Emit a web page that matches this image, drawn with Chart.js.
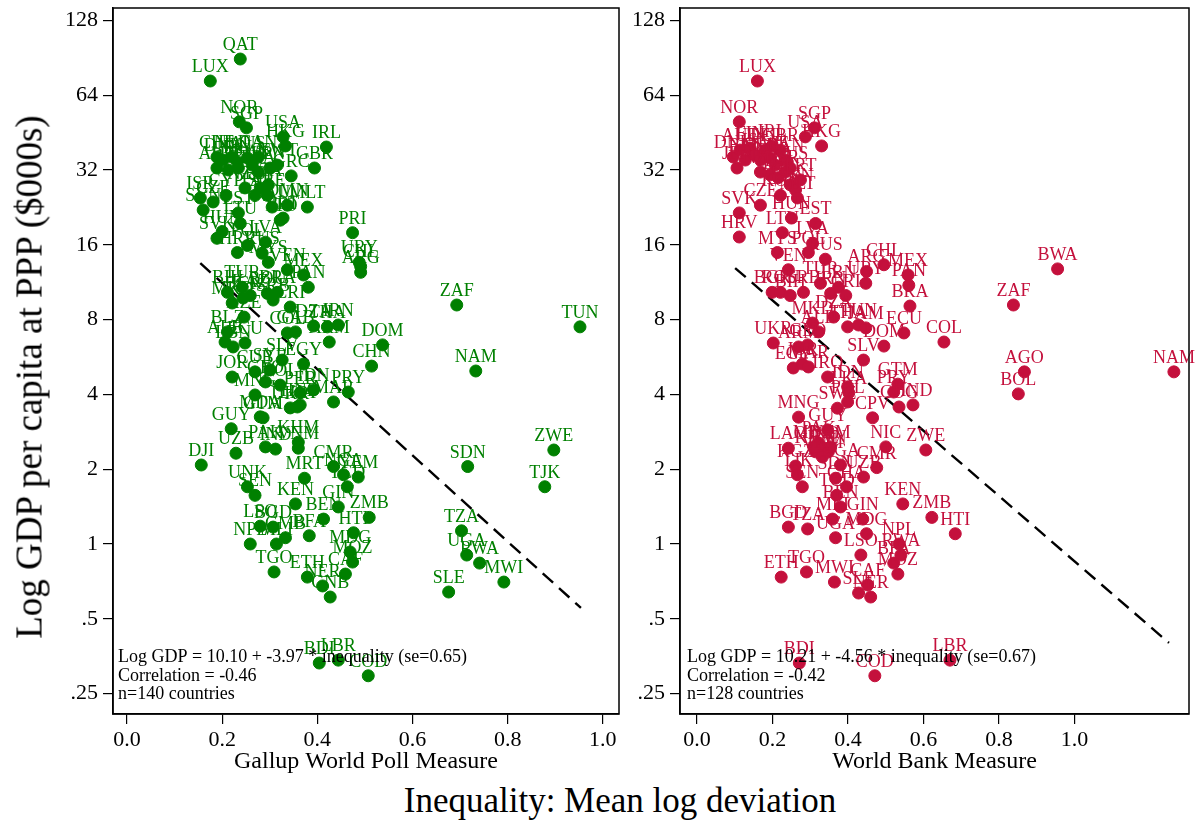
<!DOCTYPE html>
<html>
<head>
<meta charset="utf-8">
<script src="https://cdn.jsdelivr.net/npm/chart.js@4.4.1/dist/chart.umd.min.js"></script>
<style>
body { margin:0; background:#fff; width:1199px; height:824px; overflow:hidden; position:relative; font-family:"Liberation Serif", serif; }
canvas { position:absolute; top:0; }
#gallup { left:0; }
#wb { left:620px; }
.ytitle { position:absolute; left:29px; top:377px; transform:translate(-50%,-50%) rotate(-90deg); font-size:37px; white-space:nowrap; }
.xtitle { position:absolute; left:620px; top:801px; transform:translate(-50%,-50%); font-size:35px; white-space:nowrap; }
</style>
</head>
<body>
<canvas id="gallup" width="626" height="780"></canvas>
<canvas id="wb" width="579" height="780"></canvas>
<div class="ytitle">Log GDP per capita at PPP ($000s)</div>
<div class="xtitle">Inequality: Mean log deviation</div>
<script>
// axis ticks
var yTicks = [0.25, 0.5, 1, 2, 4, 8, 16, 32, 64, 128];
var yTickLabels = [".25", ".5", "1", "2", "4", "8", "16", "32", "64", "128"];
var xTicks = [0, 0.2, 0.4, 0.6, 0.8, 1.0];

// Gallup World Poll panel (GDP in $000s)
var gallupCodes = [
  "QAT","LUX","NOR","SGP","USA","HKG","IRL","GBR","GRC",
  "CHE","DNK","NLD","FIN","AUS","SWE","CAN","AUT","BEL","DEU","FRA","JPN","KWT",
  "ITA","ESP","NZL","ISL","ARE","ISR","SVN","CYP","CZE","SAU","MLT","OMN","PRT","EST","LTU","TTO",
  "SVK","HUN","HRV","POL","LVA","RUS","MYS","VEN","MEX","PAN","CHL","ARG","URY","PRI",
  "TUR","BIH","KAZ","BGR","ROU","BRA","SRB","MKD","CRI","DZA","THA","IRN",
  "AZE","BLZ","ALB","LBN","ECU","COL","GAB","ARM","CHN","DOM","ZAF","TUN","NAM",
  "SLV","EGY","JOR","CUB","SYR","GEO","BOL","PER","IDN","PRY","MAR","MNG","UKR","LKA","HND",
  "GUY","MDA","GTM","UZB","DJI","PAK","IND","KHM","VNM","MRT","CMR","NGA","SDN","ZWE","TJK",
  "YEM","TCD","UNK","SEN","KEN","GIN","ZMB","HTI","BEN","BFA","LSO","BGD","NPL","MLI","GMB",
  "MDG","MOZ","CAF","TGO","ETH","NER","GNB","SLE","MWI","TZA","UGA","RWA","BDI","LBR","COD"
];
var gallupIneq = [
  0.238,0.175,0.236,0.251,0.328,0.333,0.419,0.394,0.345,
  0.189,0.202,0.221,0.232,0.253,0.263,0.276,0.189,0.213,0.234,0.276,0.301,0.316,
  0.297,0.280,0.248,0.269,0.295,0.154,0.160,0.208,0.181,0.305,0.379,0.337,0.328,0.234,0.238,0.322,
  0.189,0.200,0.232,0.253,0.291,0.284,0.297,0.337,0.371,0.381,0.491,0.491,0.488,0.474,
  0.242,0.211,0.259,0.244,0.295,0.316,0.307,0.221,0.343,0.392,0.421,0.444,
  0.246,0.211,0.206,0.223,0.248,0.337,0.354,0.425,0.514,0.537,0.693,0.952,0.733,
  0.326,0.371,0.221,0.269,0.301,0.291,0.322,0.364,0.392,0.465,0.434,0.269,0.343,0.358,0.364,
  0.219,0.280,0.286,0.229,0.156,0.291,0.312,0.360,0.360,0.373,0.434,0.455,0.716,0.897,0.878,
  0.486,0.463,0.253,0.269,0.354,0.444,0.509,0.476,0.413,0.383,0.280,0.307,0.259,0.314,0.333,
  0.469,0.474,0.459,0.309,0.379,0.411,0.427,0.676,0.792,0.703,0.714,0.741,0.404,0.444,0.507
];
var gallupGdp = [
  89.5,73.0,50.0,47.3,43.5,40.0,39.6,32.6,30.3,
  36.1,35.1,36.1,34.5,35.8,33.5,36.1,32.6,32.0,32.6,31.4,32.6,33.5,
  27.9,27.1,27.1,25.3,25.3,24.7,22.1,25.3,23.8,22.7,22.7,23.1,20.5,21.5,19.5,20.1,
  17.0,18.1,14.9,15.9,16.4,14.8,13.6,12.7,12.1,10.8,13.1,12.4,13.6,17.9,
  10.8,10.3,10.0,9.77,10.2,10.3,9.59,9.33,8.99,7.54,7.48,7.61,
  8.19,7.14,6.50,6.21,6.44,7.07,7.14,6.50,5.20,6.33,9.16,7.48,4.97,
  5.50,5.30,4.70,4.93,5.02,4.49,4.36,4.06,4.17,4.09,3.73,3.98,3.53,3.56,3.63,
  2.91,3.25,3.22,2.32,2.08,2.46,2.41,2.57,2.43,1.84,2.05,1.90,2.05,2.39,1.70,
  1.86,1.70,1.70,1.57,1.45,1.41,1.28,1.11,1.26,1.08,1.18,1.17,1.00,1.00,1.06,
  0.929,0.846,0.757,0.772,0.736,0.678,0.612,0.641,0.703,1.13,0.903,0.838,0.332,0.341,0.295
];
var gallupFitX = [0.154, 0.954];
var gallupFitY = [13.5, 0.553];
var gallupNotes = ["Log GDP = 10.10 + -3.97 * inequality (se=0.65)", "Correlation = -0.46", "n=140 countries"];

// World Bank panel
var wbCodes = [
  "LUX","NOR","SGP","USA","HKG","IRL",
  "DNK","AUT","BEL","FIN","JPN","ISL","NLD","DEU","SWE","FRA","GBR","CAN","AUS","ITA","ESP","ISR","GRC","SVN","NZL","PRT","CZE",
  "SVK","HRV","LTU","KOR","MLT","HUN","EST","LVA","POL","MYS","RUS","CHL","ARG","MEX",
  "PAN","URY","VEN","TUR","LBN","BGR","ROU","BIH","SRB","IRN","CRI","BRA","DZA",
  "MKD","ALB","THA","TUN","JAM","ECU","COL","UKR","DOM","ARM","GEO","SLV","EGY","JOR",
  "MAR","IRQ","IDN","LKA","PHL","GTM","PRY","HND","COG","MNG","SWZ","CPV","GUY","PAK",
  "IND","BTN","KHM","VNM","YEM","MDA","LAO","NIC","ZWE","NGA","CMR","KGZ","TJK","SDN","UZB",
  "SEN","GHA","TCD","BEN","KEN","ZMB","HTI","BGD","TZA","MLI","GIN","UGA","MDG","NPL","RWA",
  "BFA","LSO","MOZ","ETH","TGO","MWI","CAF","SLE","NER","BDI","COD","LBR","BWA","ZAF","AGO","BOL",
  "NAM"
];
var wbIneq = [
  0.160,0.112,0.311,0.287,0.330,0.199,
  0.096,0.114,0.128,0.141,0.106,0.154,0.168,0.181,0.194,0.207,0.221,0.234,0.247,0.194,0.215,0.234,0.247,0.261,0.168,0.274,0.168,
  0.112,0.112,0.226,0.221,0.266,0.250,0.314,0.306,0.295,0.213,0.340,0.495,0.449,0.559,
  0.561,0.447,0.242,0.327,0.375,0.199,0.221,0.247,0.282,0.354,0.394,0.564,0.362,
  0.306,0.322,0.399,0.428,0.447,0.548,0.654,0.202,0.495,0.269,0.293,0.441,0.255,0.279,
  0.295,0.346,0.399,0.402,0.399,0.532,0.521,0.572,0.535,0.269,0.372,0.465,0.346,0.322,
  0.335,0.348,0.314,0.332,0.354,0.309,0.242,0.500,0.606,0.380,0.476,0.261,0.266,0.367,0.441,
  0.279,0.396,0.370,0.380,0.545,0.622,0.684,0.242,0.293,0.359,0.439,0.367,0.449,0.535,0.540,
  0.521,0.434,0.532,0.223,0.290,0.364,0.452,0.428,0.460,0.271,0.471,0.670,0.955,0.838,0.867,0.851,
  1.263
];
var wbGdp = [
  73.0,50.0,47.3,43.5,40.0,40.0,
  36.1,38.5,35.1,39.2,32.6,36.8,35.1,38.5,35.8,33.5,38.5,35.1,32.6,30.6,29.8,31.4,27.9,26.6,31.4,29.2,23.1,
  21.5,17.2,17.9,25.3,24.7,20.5,19.5,16.2,14.9,14.9,14.0,13.3,12.5,12.1,
  11.0,11.2,12.7,11.2,10.8,10.3,10.3,10.0,10.3,10.2,10.0,9.07,8.19,
  7.75,7.14,7.48,7.61,7.41,7.07,6.50,6.44,6.26,6.21,6.33,5.50,5.11,5.30,
  5.16,4.70,4.29,4.06,3.73,4.40,4.09,3.63,3.56,3.24,3.52,3.22,2.88,2.55,
  2.43,2.35,2.35,2.24,2.46,2.46,2.43,2.46,2.39,2.08,2.03,2.06,1.90,1.84,1.86,
  1.70,1.70,1.57,1.41,1.45,1.28,1.10,1.17,1.15,1.26,1.26,1.06,1.10,1.00,0.903,
  0.838,0.903,0.757,0.736,0.772,0.703,0.684,0.635,0.612,0.332,0.295,0.341,12.8,9.16,4.93,4.02,
  4.93
];
var wbFitX = [0.101, 1.250];
var wbFitY = [12.9, 0.400];
var wbNotes = ["Log GDP = 10.21 + -4.56 * inequality (se=0.67)", "Correlation = -0.42", "n=128 countries"];

var FONT = '"Liberation Serif", "Times New Roman", serif';

function makePanel(id, p) {
  var pts = p.codes.map(function (c, i) { return { x: p.xs[i], y: p.ys[i] }; });
  var fit = p.fitX.map(function (x, i) { return { x: x, y: p.fitY[i] }; });

  var extras = {
    id: 'extras',
    afterDatasetsDraw: function (chart) {
      var ctx = chart.ctx, a = chart.chartArea;
      var meta = chart.getDatasetMeta(0);
      ctx.save();
      // country codes above the dots
      ctx.font = '18px ' + FONT;
      ctx.fillStyle = p.color;
      ctx.textAlign = 'center';
      ctx.textBaseline = 'alphabetic';
      meta.data.forEach(function (el, i) {
        ctx.fillText(p.codes[i], el.x, el.y - 9);
      });
      // regression notes
      ctx.fillStyle = '#000';
      ctx.textAlign = 'left';
      ctx.textBaseline = 'middle';
      ctx.fillText(p.notes[0], a.left + p.noteX, a.bottom - 57);
      ctx.fillText(p.notes[1], a.left + p.noteX, a.bottom - 38);
      ctx.fillText(p.notes[2], a.left + p.noteX, a.bottom - 20);
      // plot frame
      ctx.strokeStyle = '#000';
      ctx.lineWidth = 1.5;
      ctx.strokeRect(a.left, a.top, a.right - a.left, a.bottom - a.top);
      ctx.restore();
    }
  };

  return new Chart(document.getElementById(id).getContext('2d'), {
    type: 'scatter',
    data: {
      datasets: [
        {
          data: pts,
          backgroundColor: p.color,
          borderColor: p.color,
          borderWidth: 1,
          pointRadius: 6,
          pointHoverRadius: 6
        },
        {
          type: 'line',
          data: fit,
          borderColor: '#000',
          borderWidth: 2.4,
          borderDash: [14, 8],
          pointRadius: 0,
          fill: false
        }
      ]
    },
    options: {
      responsive: false,
      animation: false,
      events: [],
      layout: { padding: { top: 8, right: p.padRight, left: 0, bottom: 0 } },
      plugins: { legend: { display: false }, tooltip: { enabled: false } },
      scales: {
        x: {
          type: 'linear',
          min: p.xmin,
          max: p.xmax,
          afterBuildTicks: function (s) { s.ticks = xTicks.map(function (v) { return { value: v }; }); },
          afterFit: function (s) { s.height = 66; s.paddingLeft = 0; s.paddingRight = 0; },
          ticks: {
            callback: function (v) { return v.toFixed(1); },
            font: { family: FONT, size: 22 },
            color: '#000',
            padding: 3,
            maxRotation: 0,
            autoSkip: false
          },
          grid: { drawOnChartArea: false, tickLength: 10, color: '#000', tickColor: '#000', lineWidth: 1.2 },
          border: { color: '#000', width: 1.5 },
          title: { display: true, text: p.xTitle, font: { family: FONT, size: 24 }, color: '#000', padding: { top: 0, bottom: 4 } }
        },
        y: {
          type: 'logarithmic',
          min: 0.207,
          max: 143.6,
          afterBuildTicks: function (s) { s.ticks = yTicks.map(function (v) { return { value: v }; }); },
          afterFit: function (s) { s.width = p.yWidth; s.paddingTop = 0; s.paddingBottom = 0; },
          ticks: {
            callback: function (v, i) { return yTickLabels[i]; },
            font: { family: FONT, size: 22 },
            color: '#000',
            padding: 5,
            autoSkip: false
          },
          grid: { drawOnChartArea: false, tickLength: 10, color: '#000', tickColor: '#000', lineWidth: 1.2 },
          border: { color: '#000', width: 1.5 }
        }
      }
    },
    plugins: [extras]
  });
}

makePanel('gallup', {
  codes: gallupCodes, xs: gallupIneq, ys: gallupGdp,
  fitX: gallupFitX, fitY: gallupFitY, notes: gallupNotes,
  color: '#008000', xTitle: 'Gallup World Poll Measure',
  xmin: -0.0295, xmax: 1.034, yWidth: 113, padRight: 2, noteX: 5
});

makePanel('wb', {
  codes: wbCodes, xs: wbIneq, ys: wbGdp,
  fitX: wbFitX, fitY: wbFitY, notes: wbNotes,
  color: '#c4103c', xTitle: 'World Bank Measure',
  xmin: -0.045, xmax: 1.303, yWidth: 60, padRight: 10, noteX: 7
});
</script>
</body>
</html>
